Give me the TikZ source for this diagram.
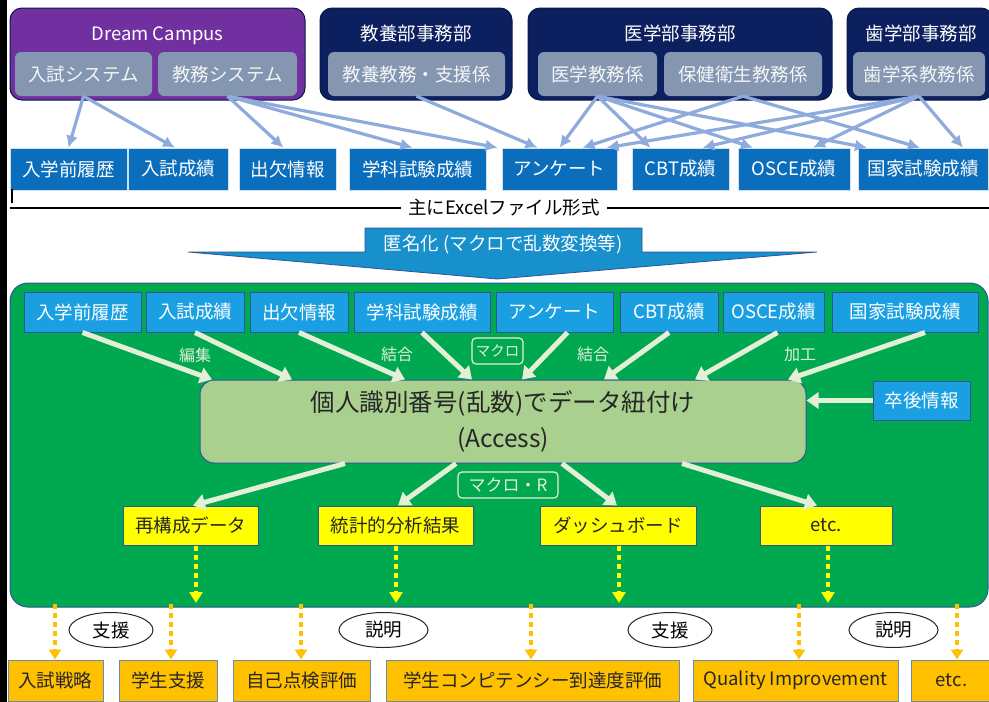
\documentclass[tikz,border=0pt]{standalone}
\usepackage{fontspec}
\setmainfont{Noto Sans CJK JP}
\usetikzlibrary{arrows.meta,calc,shapes.geometric}
\definecolor{dcpurple}{HTML}{7030A0}
\definecolor{navy}{HTML}{0C1F5E}
\definecolor{subgrey}{HTML}{8596B0}
\definecolor{rowblue}{HTML}{0A6EBD}
\definecolor{ltblue}{HTML}{1AA0E2}
\definecolor{grn}{HTML}{00A84F}
\definecolor{coregrn}{HTML}{A9D08E}
\definecolor{cream}{HTML}{E4EFD8}
\definecolor{yel}{HTML}{FFFF00}
\definecolor{org}{HTML}{FFC000}
\definecolor{arrblue}{HTML}{8FAADC}
\definecolor{edge}{HTML}{2F5597}
\begin{document}
\begin{tikzpicture}[x=1pt,y=-1pt,
  fs/.style={font=\fontsize{18.5}{20}\selectfont},
  grp/.style={rounded corners=12pt, draw=navy!80!black, line width=1pt, inner sep=0pt},
  ttl/.style={fs, text=white},
  sub/.style={fill=subgrey, rounded corners=6pt, text=white!90!subgrey, fs, inner sep=0pt, minimum height=44pt},
  rowa/.style={fill=rowblue, draw=white!80!rowblue, line width=0.6pt, text=white, fs, inner sep=0pt, minimum height=42pt},
  rowb/.style={fill=ltblue, draw=edge, line width=1pt, text=white, fs, inner sep=0pt, minimum height=40pt},
  ybox/.style={fill=yel, draw=edge, line width=1pt, text=black!85, fs, inner sep=0pt, minimum height=39pt},
  obox/.style={fill=org, draw=edge!70, line width=1pt, text=black!85, fs, inner sep=0pt, minimum height=41pt},
  lbl/.style={text=cream, font=\fontsize{16}{17}\selectfont, inner sep=0pt},
  lblbox/.style={draw=cream, text=cream, rounded corners=4pt, line width=1.2pt, inner sep=0pt, minimum height=26pt},
  tarrow/.style={draw=arrblue, line width=3.2pt, -{Latex[length=12pt,width=12pt]}},
  carrow/.style={draw=cream, line width=5pt, -{Triangle[length=12pt,width=16pt]}},
  ydash/.style={draw=yel, line width=4pt, dash pattern=on 5pt off 4pt, -{Triangle[length=11pt,width=13pt]}},
  odash/.style={draw=org, line width=4pt, dash pattern=on 5pt off 4pt, -{Triangle[length=10pt,width=12pt]}},
  ell/.style={draw=black!85, ellipse, line width=1pt, inner sep=0pt, minimum height=35pt, fs}
]
\useasboundingbox (0,0) rectangle (989,702);
\fill[white] (0,0) rectangle (989,702);
\fill[black] (0,0) rectangle (7,702);

% ---- top groups
\node[grp, fill=dcpurple, minimum width=295pt, minimum height=92pt] (dc) at (157.5,54) {};
\node[ttl] (dct) at (157.5,36) {Dream Campus};
\node[sub, minimum width=137pt] (sysA) at (83.5,74) {入試システム};
\node[sub, minimum width=139pt] (sysB) at (227.5,74) {教務システム};

\node[grp, fill=navy, minimum width=192pt, minimum height=92pt] (kyo) at (416,54) {};
\node[ttl] (kyot) at (416,33) {教養部事務部};
\node[sub, minimum width=177pt] (kyoA) at (416.5,74) {教養教務・支援係};

\node[grp, fill=navy, minimum width=304pt, minimum height=92pt] (med) at (680,54) {};
\node[ttl] (medt) at (680,33) {医学部事務部};
\node[sub, minimum width=119pt] (medA) at (597.5,74) {医学教務係};
\node[sub, minimum width=158pt] (medB) at (743,74) {保健衛生教務係};

\node[grp, fill=navy, minimum width=146pt, minimum height=92pt] (den) at (920,54) {};
\node[ttl] (dent) at (921,33) {歯学部事務部};
\node[sub, minimum width=132pt] (denA) at (919,74) {歯学系教務係};

% ---- row 1
\node[rowa, minimum width=117pt] (r1a) at (68.5,169) {入学前履歴};
\node[rowa, minimum width=100pt] (r1b) at (178,169) {入試成績};
\node[rowa, minimum width=97pt] (r1c) at (287.5,169) {出欠情報};
\node[rowa, minimum width=137pt] (r1d) at (417.5,169) {学科試験成績};
\node[rowa, minimum width=115pt] (r1e) at (559.5,169) {アンケート};
\node[rowa, minimum width=97pt] (r1f) at (680.5,169) {CBT成績};
\node[rowa, minimum width=112pt] (r1g) at (794,169) {OSCE成績};
\node[rowa, minimum width=130pt] (r1h) at (923,169) {国家試験成績};

\draw[tarrow] (sysA.south) -- (r1a.north);
\draw[tarrow] (sysA.south) -- ([xshift=-3pt]r1b.north);
\draw[tarrow] (sysB.south) -- ([xshift=-4pt]r1c.north);
\draw[tarrow] (sysB.south) -- ([xshift=-5pt]r1d.north);
\draw[tarrow] (sysB.south) -- ([xshift=-62pt]r1e.north);
\draw[tarrow] (kyoA.south) -- ([xshift=-22pt]r1e.north);
\draw[tarrow] (medA.south) -- (r1e.north);
\draw[tarrow] (medA.south) -- ([xshift=-30pt]r1f.north);
\draw[tarrow] (medA.south) -- ([xshift=-41pt]r1g.north);
\draw[tarrow] (medA.south) -- ([xshift=-56pt]r1h.north);
\draw[tarrow] (medB.south) -- ([xshift=23pt]r1e.north);
\draw[tarrow] (medB.south) -- ([xshift=-3pt]r1h.north);
\draw[tarrow] (denA.south) -- ([xshift=47pt]r1e.north);
\draw[tarrow] (denA.south) -- ([xshift=22pt]r1f.north);
\draw[tarrow] (denA.south) -- ([xshift=19pt]r1g.north);
\draw[tarrow] (denA.south) -- ([xshift=40pt]r1h.north);

% ---- Excel line
\node[fs, inner sep=0pt] (xl) at (504,208) {主にExcelファイル形式};
\coordinate (xlL) at (10,208);
\coordinate (xlR) at (989,208);
\draw[line width=2.5pt] (xlL) -- ([xshift=-7pt]xl.west);
\draw[line width=2.5pt] ([xshift=7pt]xl.east) -- (xlR);
\draw[line width=2pt] (12,189) -- (12,203);

% ---- anonymisation callout
\filldraw[fill=ltblue!90!black, draw=edge, line width=0.8pt] (365,228) -- (642,228) -- (642,252) -- (817,252) -- (497,279) -- (188,252) -- (365,252) -- cycle;
\node[fs, text=white, inner sep=0pt] (anon) at (503,244) {匿名化 (マクロで乱数変換等)};

% ---- green area
\node[fill=grn, draw=edge, line width=1pt, rounded corners=18pt, minimum width=978pt, minimum height=324pt, inner sep=0pt] (green) at (499,445) {};

\node[rowb, minimum width=117pt] (r2a) at (82.5,312) {入学前履歴};
\node[rowb, minimum width=98pt] (r2b) at (195,312) {入試成績};
\node[rowb, minimum width=98pt] (r2c) at (299,312) {出欠情報};
\node[rowb, minimum width=136pt] (r2d) at (422,312) {学科試験成績};
\node[rowb, minimum width=117pt] (r2e) at (554.5,312) {アンケート};
\node[rowb, minimum width=98pt] (r2f) at (669,312) {CBT成績};
\node[rowb, minimum width=101pt] (r2g) at (773.5,312) {OSCE成績};
\node[rowb, minimum width=146pt] (r2h) at (905,312) {国家試験成績};

\node[fill=coregrn, draw=edge, line width=1pt, rounded corners=14pt, minimum width=606pt, minimum height=83pt, inner sep=0pt, align=center, text=black!85, font=\fontsize{24.5}{36}\selectfont] (core) at (503,421.5) {個人識別番号(乱数)でデータ紐付け\\(Access)};
\node[rowb, minimum width=97pt, minimum height=39pt] (grad) at (921.5,400.5) {卒後情報};

\draw[carrow] (r2a.south) -- ([xshift=-291pt]core.north);
\draw[carrow] (r2b.south) -- ([xshift=-211pt]core.north);
\draw[carrow] (r2c.south) -- ([xshift=-98pt]core.north);
\draw[carrow] (r2d.south) -- ([xshift=-31pt]core.north);
\draw[carrow] ([xshift=13pt]r2e.south) -- ([xshift=19pt]core.north);
\draw[carrow] (r2f.south) -- ([xshift=101pt]core.north);
\draw[carrow] ([xshift=4pt]r2g.south) -- ([xshift=192pt]core.north);
\draw[carrow] ([xshift=20pt]r2h.south) -- ([xshift=285pt]core.north);
\draw[carrow] (grad.west) -- (grad.west -| core.east);

\node[lbl] (l1) at (195,355) {編集};
\node[lbl] (l2) at (397,354) {結合};
\node[lblbox, minimum width=51pt, font=\fontsize{14.5}{15}\selectfont] (l3) at (497.5,351) {マクロ};
\node[lbl] (l4) at (593,354) {結合};
\node[lbl] (l5) at (800,355) {加工};

% ---- yellow results
\node[ybox, minimum width=135pt] (y1) at (190.5,525.5) {再構成データ};
\node[ybox, minimum width=155pt] (y2) at (395.5,525.5) {統計的分析結果};
\node[ybox, minimum width=156pt] (y3) at (618,525.5) {ダッシュボード};
\node[ybox, minimum width=132pt] (y4) at (826,525.5) {etc.};

\draw[carrow] ([xshift=-158pt]core.south) -- ([xshift=2.5pt]y1.north);
\draw[carrow] ([xshift=-47pt]core.south) -- ([xshift=2.5pt]y2.north);
\draw[carrow] ([xshift=59pt]core.south) -- ([xshift=-1pt]y3.north);
\draw[carrow] ([xshift=179pt]core.south) -- ([xshift=-9pt]y4.north);
\node[lblbox, minimum width=100pt, font=\fontsize{17}{18}\selectfont] (mr) at (508,485) {マクロ・R};

\coordinate (yd1) at (196,603);
\coordinate (yd2) at (396,603);
\coordinate (yd3) at (619,603);
\coordinate (yd4) at (828,603);
\draw[ydash] (yd1 |- y1.south) -- (yd1);
\draw[ydash] (yd2 |- y2.south) -- (yd2);
\draw[ydash] (yd3 |- y3.south) -- (yd3);
\draw[ydash] (yd4 |- y4.south) -- (yd4);

% ---- bottom
\node[obox, minimum width=95pt] (b1) at (55.5,680.5) {入試戦略};
\node[obox, minimum width=98pt] (b2) at (168,680.5) {学生支援};
\node[obox, minimum width=137pt] (b3) at (301.5,680.5) {自己点検評価};
\node[obox, minimum width=293pt] (b4) at (532.5,680.5) {学生コンピテンシー到達度評価};
\node[obox, minimum width=205pt] (b5) at (795.5,680.5) {Quality Improvement};
\node[obox, minimum width=81pt] (b6) at (951.5,680.5) {etc.};

\coordinate (od1) at (55,604);
\coordinate (od2) at (171,604);
\coordinate (od3) at (301,604);
\coordinate (od4) at (531,604);
\coordinate (od5) at (799,604);
\coordinate (od6) at (957,604);
\draw[odash] (od1) -- (od1 |- b1.north);
\draw[odash] (od2) -- (od2 |- b2.north);
\draw[odash] (od3) -- (od3 |- b3.north);
\draw[odash] (od4) -- (od4 |- b4.north);
\draw[odash] (od5) -- (od5 |- b5.north);
\draw[odash] (od6) -- (od6 |- b6.north);

\node[ell, minimum width=84pt] (e1) at (111,630) {支援};
\node[ell, minimum width=89pt] (e2) at (383.5,630) {説明};
\node[ell, minimum width=84pt] (e3) at (670,630) {支援};
\node[ell, minimum width=89pt] (e4) at (893.5,630) {説明};
\end{tikzpicture}
\end{document}
